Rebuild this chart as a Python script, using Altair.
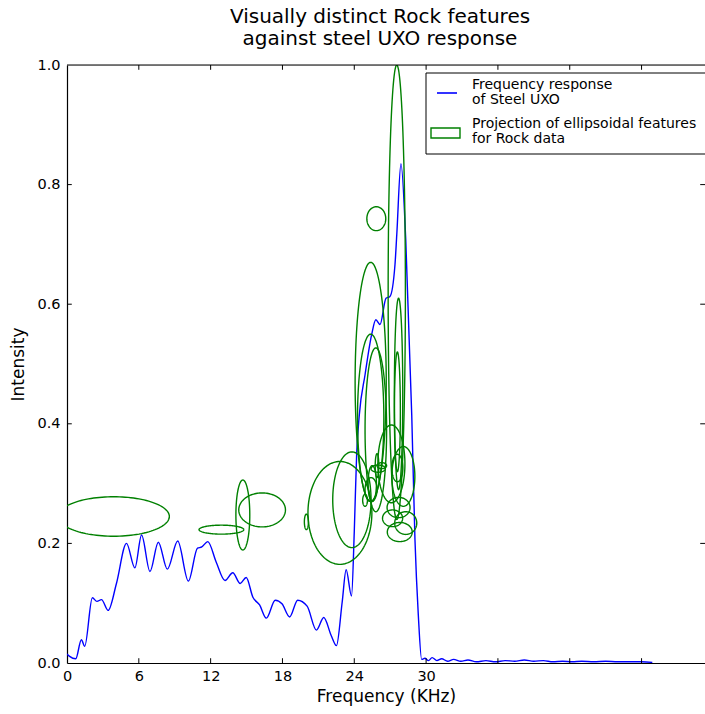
import altair as alt
import pandas as pd
import numpy as np

# ---- Steel UXO frequency response ----
freq = [0, 0.22, 0.73, 1.2, 1.48, 2.12, 2.5, 2.88, 3.44, 4.13, 4.97, 5.67, 6.23, 6.93,
        7.63, 8.38, 9.25, 10.14, 10.9, 11.26, 11.76, 12.46, 13.2, 13.85, 14.47, 14.97,
        15.53, 16.09, 16.65, 17.4, 17.96, 18.6, 19.27, 20.06, 20.84, 21.45, 22.07, 22.51,
        22.99, 23.32, 23.77, 24.0, 24.2, 24.42, 24.9, 25.45, 25.8, 26.15, 26.65, 26.98,
        27.4, 27.55, 27.9, 28.3, 28.8, 29.07, 29.35, 29.63,
        29.9, 30.2, 30.5, 30.9, 31.3, 31.8, 32.3, 32.9, 33.5, 34.2, 35.0, 35.8, 36.6,
        37.4, 38.2, 39.0, 39.8, 40.6, 41.4, 42.2, 43.0, 44.0, 45.0, 46.0, 47.0, 48.0, 48.9]
intensity = [0.015, 0.011, 0.007, 0.039, 0.028, 0.109, 0.103, 0.106, 0.088, 0.133, 0.2,
             0.159, 0.214, 0.153, 0.202, 0.157, 0.204, 0.137, 0.192, 0.194, 0.203, 0.169,
             0.138, 0.151, 0.133, 0.143, 0.110, 0.097, 0.075, 0.105, 0.099, 0.077, 0.105,
             0.095, 0.055, 0.076, 0.046, 0.029, 0.102, 0.156, 0.112, 0.22, 0.35, 0.415,
             0.482, 0.549, 0.574, 0.566, 0.61, 0.613, 0.666, 0.716, 0.835, 0.708, 0.415,
             0.206, 0.08, 0.006,
             0.008, 0.004, 0.009, 0.004, 0.007, 0.003, 0.006, 0.003, 0.005, 0.002, 0.004,
             0.002, 0.004, 0.003, 0.005, 0.003, 0.004, 0.002, 0.003, 0.002, 0.003, 0.002,
             0.003, 0.002, 0.002, 0.002, 0.001]

# ---- Rock ellipsoidal features: centre x, centre y, half-width, half-height ----
ell_cx = [3.9, 12.9, 14.69, 16.3, 22.8, 23.8, 20.0, 24.9, 27.55, 25.84, 25.37, 25.37,
          25.8, 27.7, 27.6, 27.1, 28.1, 27.6, 27.7, 27.2, 28.3, 27.8, 26.0, 25.9, 26.3,
          25.4, 25.5]
ell_cy = [0.245, 0.223, 0.2475, 0.256, 0.251, 0.273, 0.236, 0.272, 0.62, 0.743, 0.47,
          0.41, 0.39, 0.45, 0.42, 0.333, 0.312, 0.326, 0.26, 0.242, 0.234, 0.219, 0.325,
          0.33, 0.33, 0.29, 0.30]
ell_hw = [4.65, 1.87, 0.58, 1.95, 2.67, 1.6, 0.17, 0.2, 0.72, 0.79, 1.3, 1.1, 0.9, 0.35,
          0.25, 1.13, 0.96, 0.46, 0.96, 0.84, 0.92, 1.04, 0.6, 0.15, 0.4, 0.5, 0.35]
ell_hh = [0.033, 0.0075, 0.0585, 0.0284, 0.086, 0.08, 0.013, 0.01, 0.38, 0.020, 0.2,
          0.14, 0.137, 0.16, 0.1, 0.065, 0.05, 0.023, 0.017, 0.014, 0.019, 0.016, 0.006,
          0.02, 0.005, 0.02, 0.03]

x_labels = [0, 6, 12, 18, 24, 30]
x_ticks = [6, 12, 18, 24, 30, 36, 42, 48]
y_ticks = [0.0, 0.2, 0.4, 0.6, 0.8, 1.0]

XMAX = 53.3
W, H = 638, 598
FONT = "DejaVu Sans"

line_df = pd.DataFrame({"f": freq, "v": intensity})

rows = []
t = np.linspace(0, 2 * np.pi, 121)
for i, (cx, cy, hw, hh) in enumerate(zip(ell_cx, ell_cy, ell_hw, ell_hh)):
    for k, tt in enumerate(t):
        rows.append({"id": i, "k": k, "f": cx + hw * np.cos(tt), "v": cy + hh * np.sin(tt)})
ell_df = pd.DataFrame(rows)

xs = alt.Scale(domain=[0, XMAX], nice=False, zero=False)
ys = alt.Scale(domain=[0, 1], nice=False, zero=False)

base_x = alt.X("f:Q", scale=xs,
               axis=alt.Axis(values=x_labels, format="d", title="Frequency (KHz)",
                             tickSize=0, labelPadding=6, grid=False, domainColor="black",
                             domainWidth=1.2, labelFont=FONT, labelFontSize=14.5,
                             labelFlush=False, labelColor="black", titleFont=FONT,
                             titleFontSize=17, titleFontWeight="normal", titleColor="black",
                             titlePadding=6))
base_y = alt.Y("v:Q", scale=ys,
               axis=alt.Axis(values=y_ticks, format=".1f", title="Intensity",
                             tickSize=0, labelPadding=7, grid=False, domainColor="black",
                             domainWidth=1.2, labelFont=FONT, labelFontSize=14.5,
                             labelFlush=False, labelColor="black", titleFont=FONT,
                             titleFontSize=17, titleFontWeight="normal", titleColor="black",
                             titlePadding=9))

blue = alt.Chart(line_df).mark_line(color="#0000ff", strokeWidth=1.4,
                                    interpolate="monotone", clip=True).encode(x=base_x, y=base_y)

green = alt.Chart(ell_df).mark_line(color="#008000", strokeWidth=1.4, clip=True).encode(
    x=alt.X("f:Q", scale=xs), y=alt.Y("v:Q", scale=ys),
    detail="id:N", order="k:Q")

# top spine
top = alt.Chart(pd.DataFrame({"a": [0]})).mark_rule(color="black", strokeWidth=1.2).encode(
    x=alt.datum(0, scale=xs), x2=alt.datum(XMAX), y=alt.datum(1.0, scale=ys))

# inward ticks
xt = pd.DataFrame({"f": x_ticks})
tick_b = alt.Chart(xt).mark_rule(color="black", strokeWidth=1).encode(
    x=alt.X("f:Q", scale=xs), y=alt.datum(0, scale=ys), y2=alt.datum(0.008))
tick_t = alt.Chart(xt).mark_rule(color="black", strokeWidth=1).encode(
    x=alt.X("f:Q", scale=xs), y=alt.datum(1.0, scale=ys), y2=alt.datum(0.992))
yt = pd.DataFrame({"v": y_ticks[1:-1]})
tick_l = alt.Chart(yt).mark_rule(color="black", strokeWidth=1).encode(
    y=alt.Y("v:Q", scale=ys), x=alt.datum(0, scale=xs), x2=alt.datum(0.4))
tick_r = alt.Chart(yt).mark_rule(color="black", strokeWidth=1).encode(
    y=alt.Y("v:Q", scale=ys), x=alt.datum(XMAX, scale=xs), x2=alt.datum(XMAX - 0.4))

# legend (manual)
one = pd.DataFrame({"a": [0]})
leg_box = alt.Chart(one).mark_rect(fill="white", stroke="black", strokeWidth=1).encode(
    x=alt.value(359), x2=alt.value(660), y=alt.value(8), y2=alt.value(89))
leg_line = alt.Chart(one).mark_rule(color="#0000ff", strokeWidth=1.6).encode(
    x=alt.value(370), x2=alt.value(390), y=alt.value(28))
leg_patch = alt.Chart(one).mark_rect(fill="white", stroke="#008000", strokeWidth=1.4).encode(
    x=alt.value(364), x2=alt.value(393), y=alt.value(63), y2=alt.value(73))
leg_t1 = alt.Chart(one).mark_text(text="Frequency response\nof Steel UXO", lineBreak="\n",
                                  align="left", baseline="top", font=FONT, fontSize=14,
                                  lineHeight=15, color="black").encode(
    x=alt.value(405), y=alt.value(13))
leg_t2 = alt.Chart(one).mark_text(text="Projection of ellipsoidal features\nfor Rock data",
                                  lineBreak="\n", align="left", baseline="top", font=FONT,
                                  fontSize=14, lineHeight=15, color="black").encode(
    x=alt.value(405), y=alt.value(52))

chart = alt.layer(blue, green, top, tick_b, tick_t, tick_l, tick_r,
                  leg_box, leg_line, leg_patch, leg_t1, leg_t2).properties(
    width=W, height=H,
    title=alt.TitleParams(["Visually distinct Rock features", "against steel UXO response"],
                          font=FONT, fontSize=20, fontWeight="normal", color="black",
                          anchor="middle", dx=-6, offset=8, lineHeight=22),
    autosize=alt.AutoSizeParams(type="none"),
    padding={"left": 67, "top": 65, "right": 0, "bottom": 51},
).configure_view(stroke=None).configure(background="white")

chart.save("out.html", embed_options={"renderer": "svg", "actions": False})
